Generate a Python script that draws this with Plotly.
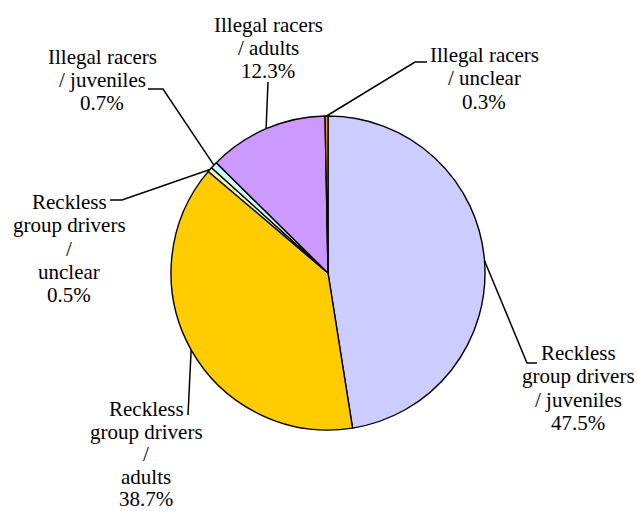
import math
import plotly.graph_objects as go

# ---- data ----
categories = [
    "Reckless group drivers / juveniles",
    "Reckless group drivers / adults",
    "Reckless group drivers / unclear",
    "Illegal racers / juveniles",
    "Illegal racers / adults",
    "Illegal racers / unclear",
]
values = [47.5, 38.7, 0.5, 0.7, 12.3, 0.3]
label_text = [
    ["Reckless", "group drivers", "/ juveniles"],
    ["Reckless", "group drivers", "/", "adults"],
    ["Reckless", "group drivers", "/", "unclear"],
    ["Illegal racers", "/ juveniles"],
    ["Illegal racers", "/ adults"],
    ["Illegal racers", "/ unclear"],
]
colors = ["#CCCCFF", "#FFCC00", "#FFFF99", "#CCFFFF", "#CC99FF", "#FF9900"]

# ---- layout (pixels) ----
W, H = 637, 511
CX, CY, R = 328, 273, 157
# label centre x, first line centre y, line spacing
label_pos = [
    (578, 353, 23.3),
    (146, 409, 22.5),
    (69, 202, 23.3),
    (102, 57, 23.0),
    (268, 25, 23.0),
    (484, 55, 23.5),
]
# leader points after the pie anchor
leader_pts = [
    [(527, 363), (537, 363)],
    [(188, 415)],
    [(122, 200), (110, 200)],
    [(163, 89), (148, 89)],
    [(268, 82)],
    [(415, 62), (427, 62)],
]

FONT = "serif"
FS = 21


def px(x):
    return x / W


def py(y):
    return 1 - y / H


fig = go.Figure()
fig.add_trace(go.Pie(
    labels=categories,
    values=values,
    sort=False,
    direction="clockwise",
    rotation=0,
    textinfo="none",
    hoverinfo="label+percent",
    showlegend=False,
    marker=dict(colors=colors, line=dict(color="black", width=1.4)),
    domain=dict(x=[px(CX - R), px(CX + R)], y=[py(CY + R), py(CY - R)]),
))

total = sum(values)
annotations = []
shapes = []
cum = 0.0
for i, v in enumerate(values):
    mid = (cum + v / 2) / total * 2 * math.pi
    cum += v
    ax = CX + R * math.sin(mid)
    ay = CY - R * math.cos(mid)
    pts = [(ax, ay)] + leader_pts[i]
    path = "M " + " L ".join(f"{px(x):.5f},{py(y):.5f}" for x, y in pts)
    shapes.append(dict(type="path", path=path, xref="paper", yref="paper",
                       line=dict(color="black", width=1.5)))
    lx, ly, sp = label_pos[i]
    lines = label_text[i] + [f"{v:.1f}%"]
    for k, t in enumerate(lines):
        annotations.append(dict(
            text=t, x=px(lx), y=py(ly + k * sp), xref="paper", yref="paper",
            xanchor="center", yanchor="middle", showarrow=False,
            font=dict(family=FONT, size=FS, color="black"),
        ))

fig.update_layout(
    width=W, height=H,
    margin=dict(l=0, r=0, t=0, b=0),
    font=dict(family=FONT),
    paper_bgcolor="white", plot_bgcolor="white",
    shapes=shapes, annotations=annotations,
)
fig.write_html("out.html")
